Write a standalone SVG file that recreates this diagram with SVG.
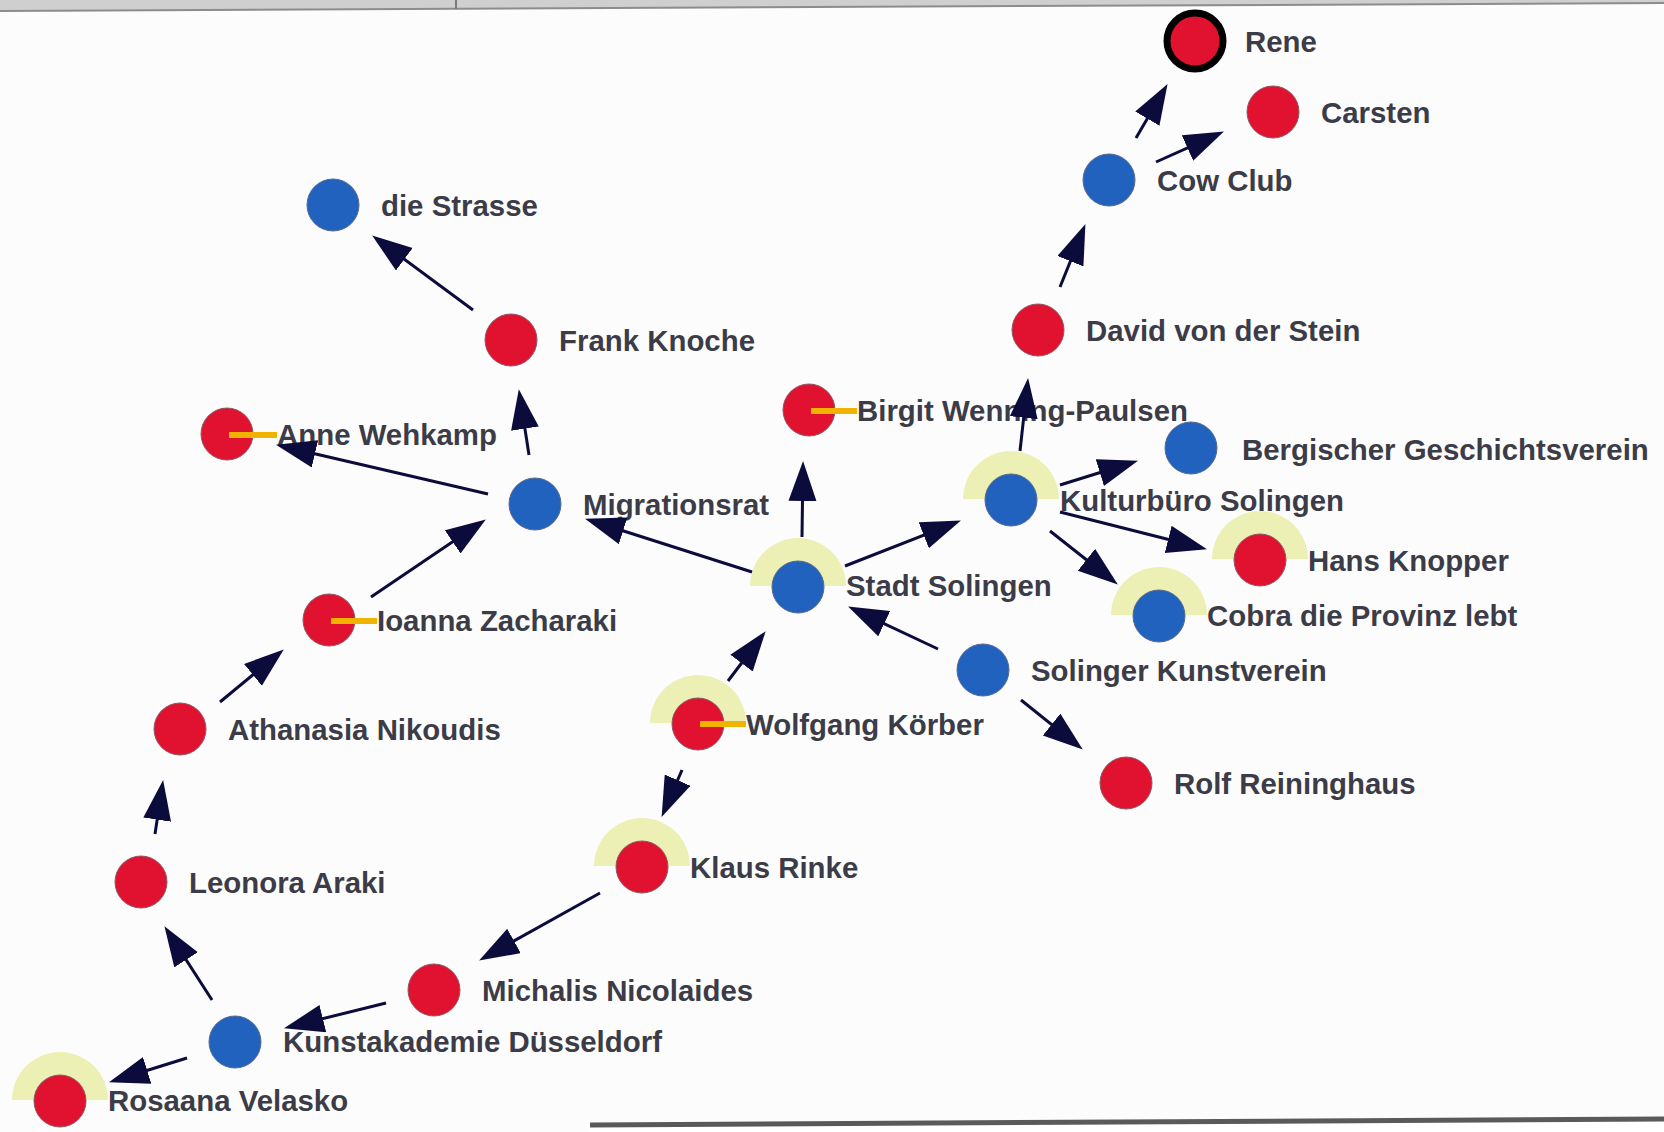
<svg xmlns="http://www.w3.org/2000/svg" width="1664" height="1132" viewBox="0 0 1664 1132">
  <style>
    .bg { fill: #fcfcfc; }
    .halo { fill: #edf0b4; }
    .red { fill: #e1122f; stroke: #8a5a66; stroke-width: 1; }
    .blue { fill: #2262bf; stroke: #5a6a8a; stroke-width: 1; }
    .sel { stroke: #000000; stroke-width: 7; }
    .tag { stroke: #f2b300; stroke-width: 6; }
    .lbl { font-family: "Liberation Sans", Arial, sans-serif; font-weight: bold; font-size: 29.4px; fill: #3c3c48; }
    .edge { stroke: #0c0c3c; stroke-width: 3; fill: none; marker-end: url(#arrow); }
  </style>
  <defs>
    <marker id="arrow" markerUnits="userSpaceOnUse" markerWidth="42" markerHeight="30" viewBox="0 0 42 30" refX="29" refY="14" orient="auto">
      <path d="M0,0 L40,14 L0,28 Z" fill="#0c0c3c"/>
    </marker>
    <path id="halo" d="M-48,-1 A48,48 0 0 1 48,-1 Z"/>
  </defs>

  <rect class="bg" x="0" y="0" width="1664" height="1132"/>

  <!-- window frame remnants -->
  <g id="frame">
    <polygon points="0,0 1664,0 1664,3 0,11" fill="#cfcfcf"/>
    <line x1="0" y1="11" x2="1664" y2="3" stroke="#8c8c8c" stroke-width="2"/>
    <line x1="456" y1="0" x2="456" y2="9" stroke="#7a7a7a" stroke-width="2"/>
    <polygon points="590,1126 1664,1118 1664,1132 590,1132" fill="#ffffff"/>
    <line x1="590" y1="1125" x2="1664" y2="1119" stroke="#5a5a5a" stroke-width="5"/>
  </g>

  <g id="nodes">
    <g id="n-rene" transform="translate(1195,41)">
      <circle r="28" class="red sel"/>
      <text class="lbl" x="50" y="11">Rene</text>
    </g>
    <g id="n-carsten" transform="translate(1273,112)">
      <circle r="26" class="red"/>
      <text class="lbl" x="48" y="11">Carsten</text>
    </g>
    <g id="n-cowclub" transform="translate(1109,180)">
      <circle r="26" class="blue"/>
      <text class="lbl" x="48" y="11">Cow Club</text>
    </g>
    <g id="n-strasse" transform="translate(333,205)">
      <circle r="26" class="blue"/>
      <text class="lbl" x="48" y="11">die Strasse</text>
    </g>
    <g id="n-frank" transform="translate(511,340)">
      <circle r="26" class="red"/>
      <text class="lbl" x="48" y="11">Frank Knoche</text>
    </g>
    <g id="n-david" transform="translate(1038,330)">
      <circle r="26" class="red"/>
      <text class="lbl" x="48" y="11">David von der Stein</text>
    </g>
    <g id="n-birgit" transform="translate(809,410)">
      <circle r="26" class="red"/>
      <line class="tag" x1="2" y1="1" x2="48" y2="1"/>
      <text class="lbl" x="48" y="11">Birgit Wenning-Paulsen</text>
    </g>
    <g id="n-anne" transform="translate(227,434)">
      <circle r="26" class="red"/>
      <line class="tag" x1="2" y1="1" x2="50" y2="1"/>
      <text class="lbl" x="50" y="11">Anne Wehkamp</text>
    </g>
    <g id="n-bergischer" transform="translate(1191,448)">
      <circle r="26" class="blue"/>
      <text class="lbl" x="51" y="12">Bergischer Geschichtsverein</text>
    </g>
    <g id="n-migrationsrat" transform="translate(535,504)">
      <circle r="26" class="blue"/>
      <text class="lbl" x="48" y="11">Migrationsrat</text>
    </g>
    <g id="n-kulturbuero" transform="translate(1011,500)">
      <use href="#halo" class="halo"/>
      <circle r="26" class="blue"/>
      <text class="lbl" x="49" y="11">Kulturbüro Solingen</text>
    </g>
    <g id="n-hans" transform="translate(1260,560)">
      <use href="#halo" class="halo"/>
      <circle r="26" class="red"/>
      <text class="lbl" x="48" y="11">Hans Knopper</text>
    </g>
    <g id="n-stadt" transform="translate(798,587)">
      <use href="#halo" class="halo"/>
      <circle r="26" class="blue"/>
      <text class="lbl" x="48" y="9">Stadt Solingen</text>
    </g>
    <g id="n-cobra" transform="translate(1159,616)">
      <use href="#halo" class="halo"/>
      <circle r="26" class="blue"/>
      <text class="lbl" x="48" y="10">Cobra die Provinz lebt</text>
    </g>
    <g id="n-ioanna" transform="translate(329,620)">
      <circle r="26" class="red"/>
      <line class="tag" x1="2" y1="1" x2="48" y2="1"/>
      <text class="lbl" x="48" y="11">Ioanna Zacharaki</text>
    </g>
    <g id="n-kunstverein" transform="translate(983,670)">
      <circle r="26" class="blue"/>
      <text class="lbl" x="48" y="11">Solinger Kunstverein</text>
    </g>
    <g id="n-athanasia" transform="translate(180,729)">
      <circle r="26" class="red"/>
      <text class="lbl" x="48" y="11">Athanasia Nikoudis</text>
    </g>
    <g id="n-wolfgang" transform="translate(698,724)">
      <use href="#halo" class="halo"/>
      <circle r="26" class="red"/>
      <line class="tag" x1="2" y1="0" x2="48" y2="0"/>
      <text class="lbl" x="48" y="11">Wolfgang Körber</text>
    </g>
    <g id="n-rolf" transform="translate(1126,783)">
      <circle r="26" class="red"/>
      <text class="lbl" x="48" y="11">Rolf Reininghaus</text>
    </g>
    <g id="n-klaus" transform="translate(642,867)">
      <use href="#halo" class="halo"/>
      <circle r="26" class="red"/>
      <text class="lbl" x="48" y="11">Klaus Rinke</text>
    </g>
    <g id="n-leonora" transform="translate(141,882)">
      <circle r="26" class="red"/>
      <text class="lbl" x="48" y="11">Leonora Araki</text>
    </g>
    <g id="n-michalis" transform="translate(434,990)">
      <circle r="26" class="red"/>
      <text class="lbl" x="48" y="11">Michalis Nicolaides</text>
    </g>
    <g id="n-kunstakademie" transform="translate(235,1042)">
      <circle r="26" class="blue"/>
      <text class="lbl" x="48" y="10">Kunstakademie Düsseldorf</text>
    </g>
    <g id="n-rosaana" transform="translate(60,1101)">
      <use href="#halo" class="halo"/>
      <circle r="26" class="red"/>
      <text class="lbl" x="48" y="10">Rosaana Velasko</text>
    </g>
  </g>

  <g id="connectors">
    <line class="edge" x1="473" y1="310" x2="381" y2="242"/>
    <line class="edge" x1="529" y1="455" x2="520.5" y2="400"/>
    <line class="edge" x1="488" y1="494" x2="286.7" y2="447.3"/>
    <line class="edge" x1="371" y1="597" x2="476.7" y2="525.6"/>
    <line class="edge" x1="220" y1="702" x2="275.3" y2="656.4"/>
    <line class="edge" x1="155" y1="834" x2="161.5" y2="790.9"/>
    <line class="edge" x1="212" y1="1000" x2="170.4" y2="935.4"/>
    <line class="edge" x1="386" y1="1003" x2="294.7" y2="1025.6"/>
    <line class="edge" x1="187" y1="1058" x2="119.5" y2="1079"/>
    <line class="edge" x1="600" y1="893" x2="488.7" y2="955.1"/>
    <line class="edge" x1="682" y1="770" x2="666" y2="806.8"/>
    <line class="edge" x1="728" y1="681" x2="759" y2="640"/>
    <line class="edge" x1="752" y1="572" x2="595.5" y2="522"/>
    <line class="edge" x1="802" y1="537" x2="802.9" y2="472"/>
    <line class="edge" x1="845" y1="566" x2="950.7" y2="524.6"/>
    <line class="edge" x1="938" y1="649" x2="858" y2="611.3"/>
    <line class="edge" x1="1021" y1="700" x2="1074.2" y2="742.7"/>
    <line class="edge" x1="1020" y1="451" x2="1026.9" y2="388.9"/>
    <line class="edge" x1="1060" y1="485" x2="1127.5" y2="464"/>
    <line class="edge" x1="1060" y1="512" x2="1196.3" y2="546.5"/>
    <line class="edge" x1="1050" y1="531" x2="1109.2" y2="577.8"/>
    <line class="edge" x1="1060" y1="287" x2="1081.3" y2="234.3"/>
    <line class="edge" x1="1136" y1="138" x2="1162" y2="93.6"/>
    <line class="edge" x1="1156" y1="162" x2="1213.9" y2="136.1"/>
  </g>
</svg>
